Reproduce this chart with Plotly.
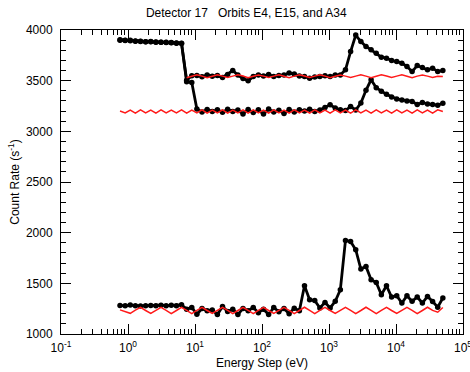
import plotly.graph_objects as go

# Energy steps (eV)
energy_ev = [0.760, 0.907, 1.081, 1.289, 1.538, 1.834, 2.187, 2.609, 3.111, 3.710,
             4.425, 5.278, 6.293, 7.505, 8.949, 10.67, 12.73, 15.18, 18.10, 21.59,
             25.75, 30.70, 36.61, 43.65, 52.06, 62.09, 74.05, 88.30, 105.3, 125.6,
             149.8, 178.6, 213.0, 254.0, 302.9, 361.3, 430.8, 513.8, 612.7, 730.7,
             871.3, 1039, 1239, 1477, 1762, 2101, 2506, 2989, 3565, 4251,
             5070, 6046, 7211, 8599, 10250, 12230, 14580, 17390, 20740, 24740,
             29500, 35180, 41960, 50030]

# Measured count rates (black)
orbit_upper = [3905, 3900, 3898, 3892, 3888, 3885, 3886, 3882, 3880, 3878,
               3876, 3872, 3870, 3505, 3548, 3552, 3538, 3556, 3544, 3550,
               3532, 3562, 3600, 3555, 3522, 3498, 3540, 3556, 3545, 3562,
               3540, 3550, 3556, 3575, 3565, 3545, 3540, 3525, 3535, 3540,
               3548, 3540, 3555, 3557, 3607, 3787, 3950, 3886, 3837, 3804,
               3771, 3732, 3722, 3699, 3689, 3673, 3640, 3590, 3649, 3630,
               3607, 3623, 3590, 3600]

orbit_middle = [3900, 3897, 3893, 3890, 3886, 3884, 3883, 3880, 3878, 3876,
                3874, 3870, 3866, 3490, 3482, 3220, 3190, 3215, 3195, 3212,
                3188, 3218, 3195, 3210, 3172, 3215, 3185, 3212, 3170, 3220,
                3190, 3208, 3175, 3215, 3190, 3212, 3200, 3218, 3195, 3210,
                3235, 3262, 3230, 3212, 3205, 3245, 3210, 3280, 3405, 3510,
                3430, 3395, 3365, 3340, 3320, 3310, 3300, 3295, 3265, 3285,
                3270, 3265, 3258, 3278]

orbit_lower = [1282, 1278, 1285, 1280, 1276, 1280, 1282, 1278, 1284, 1280,
               1283, 1279, 1288, 1245, 1262, 1195, 1252, 1230, 1238, 1192,
               1272, 1222, 1245, 1192, 1252, 1230, 1262, 1210, 1245, 1192,
               1262, 1220, 1252, 1200, 1255, 1230, 1476, 1338, 1331, 1257,
               1312, 1257, 1322, 1437, 1923, 1913, 1832, 1641, 1667, 1536,
               1509, 1388, 1476, 1365, 1378, 1306, 1378, 1322, 1365, 1306,
               1371, 1320, 1265, 1355]

# Model / background levels (red)
model_upper = [None, None, None, None, None, None, None, None, None, None,
               None, None, None, 3528, 3545, 3558, 3545, 3530, 3544, 3557,
               3545, 3531, 3545, 3558, 3546, 3530, 3544, 3556, 3545, 3532,
               3545, 3558, 3544, 3530, 3545, 3557, 3546, 3531, 3545, 3558,
               3545, 3530, 3544, 3556, 3545, 3531, 3545, 3558, 3545, 3530,
               3544, 3557, 3546, 3531, 3545, 3558, 3544, 3530, 3545, 3556,
               3545, 3531, 3544, 3540]

model_middle = [3200, 3182, 3210, 3180, 3212, 3182, 3210, 3180, 3212, 3181,
                3210, 3182, 3211, 3180, 3210, 3182, 3212, 3180, 3210, 3181,
                3212, 3180, 3210, 3182, 3211, 3180, 3212, 3181, 3210, 3180,
                3212, 3182, 3210, 3180, 3211, 3182, 3210, 3180, 3212, 3181,
                3210, 3180, 3212, 3182, 3210, 3180, 3211, 3182, 3210, 3180,
                3212, 3181, 3210, 3180, 3212, 3182, 3210, 3180, 3211, 3182,
                3210, 3180, 3212, 3195]

model_lower = [1238, 1222, 1204, 1235, 1262, 1232, 1203, 1233, 1262, 1234,
               1202, 1232, 1263, 1233, 1202, 1234, 1262, 1232, 1203, 1233,
               1262, 1234, 1202, 1232, 1263, 1233, 1202, 1234, 1262, 1232,
               1203, 1233, 1262, 1234, 1202, 1232, 1264, 1233, 1202, 1234,
               1263, 1232, 1203, 1233, 1263, 1234, 1202, 1232, 1264, 1233,
               1202, 1234, 1263, 1232, 1203, 1233, 1263, 1234, 1202, 1232,
               1264, 1233, 1215, 1262]

# Tick labels
x_tick_values = [0.1, 1, 10, 100, 1000, 10000, 100000]
x_tick_labels = ["10<sup>-1</sup>", "10<sup>0</sup>", "10<sup>1</sup>", "10<sup>2</sup>",
                 "10<sup>3</sup>", "10<sup>4</sup>", "10<sup>5</sup>"]
y_tick_values = [1000, 1500, 2000, 2500, 3000, 3500, 4000]
y_tick_labels = ["1000", "1500", "2000", "2500", "3000", "3500", "4000"]

FONT = "Liberation Sans, Arial, Helvetica, sans-serif"

fig = go.Figure()
for series in (orbit_upper, orbit_middle, orbit_lower):
    fig.add_trace(go.Scatter(
        x=energy_ev, y=series, mode="lines+markers",
        line=dict(color="black", width=2.8),
        marker=dict(color="black", size=5.5),
        showlegend=False, hoverinfo="skip"))
for series in (model_upper, model_middle, model_lower):
    fig.add_trace(go.Scatter(
        x=energy_ev, y=series, mode="lines",
        line=dict(color="#ff1a1a", width=1.5),
        connectgaps=False, showlegend=False, hoverinfo="skip"))

minor_x = [m * 10 ** k for k in range(-1, 5) for m in range(2, 10)]

fig.update_layout(
    width=470, height=372,
    margin=dict(l=61, r=7, t=30, b=38, autoexpand=False),
    paper_bgcolor="white", plot_bgcolor="white",
    font=dict(family=FONT, size=12, color="black"),
    title=dict(text="Detector 17   Orbits E4, E15, and A34",
               x=0.524, xref="container", xanchor="center",
               y=1 - 13 / 372, yref="container", yanchor="middle",
               font=dict(family=FONT, size=12, color="black")),
)

fig.update_xaxes(
    type="log", range=[-1, 5],
    tickmode="array", tickvals=x_tick_values, ticktext=x_tick_labels,
    ticks="inside", ticklen=10, tickwidth=1, tickcolor="black",
    showline=True, linecolor="black", linewidth=1, mirror="ticks",
    showgrid=False, zeroline=False, automargin=False,
    ticklabeloverflow="allow",
    tickfont=dict(family=FONT, size=12, color="black"),
    ticklabelstandoff=3,
    minor=dict(tickmode="array", tickvals=minor_x, ticks="inside", ticklen=5,
               tickwidth=1, tickcolor="black", showgrid=False),
    title=dict(text="Energy Step (eV)", standoff=4,
               font=dict(family=FONT, size=12, color="black")),
)

fig.update_yaxes(
    range=[1000, 4000],
    tickmode="array", tickvals=y_tick_values, ticktext=y_tick_labels,
    ticks="inside", ticklen=10, tickwidth=1, tickcolor="black",
    showline=True, linecolor="black", linewidth=1, mirror="ticks",
    showgrid=False, zeroline=False, automargin=False,
    ticklabeloverflow="allow",
    tickfont=dict(family=FONT, size=12, color="black"),
    ticklabelstandoff=5,
    minor=dict(dtick=100, ticks="inside", ticklen=5, tickwidth=1,
               tickcolor="black", showgrid=False),
    title=dict(text="Count Rate (s<sup>-1</sup>)", standoff=3,
               font=dict(family=FONT, size=12, color="black")),
)

fig.write_html("out.html",
               config={"displayModeBar": False, "staticPlot": True},
               post_script="document.body.style.margin='0px';document.body.style.padding='0px';")
